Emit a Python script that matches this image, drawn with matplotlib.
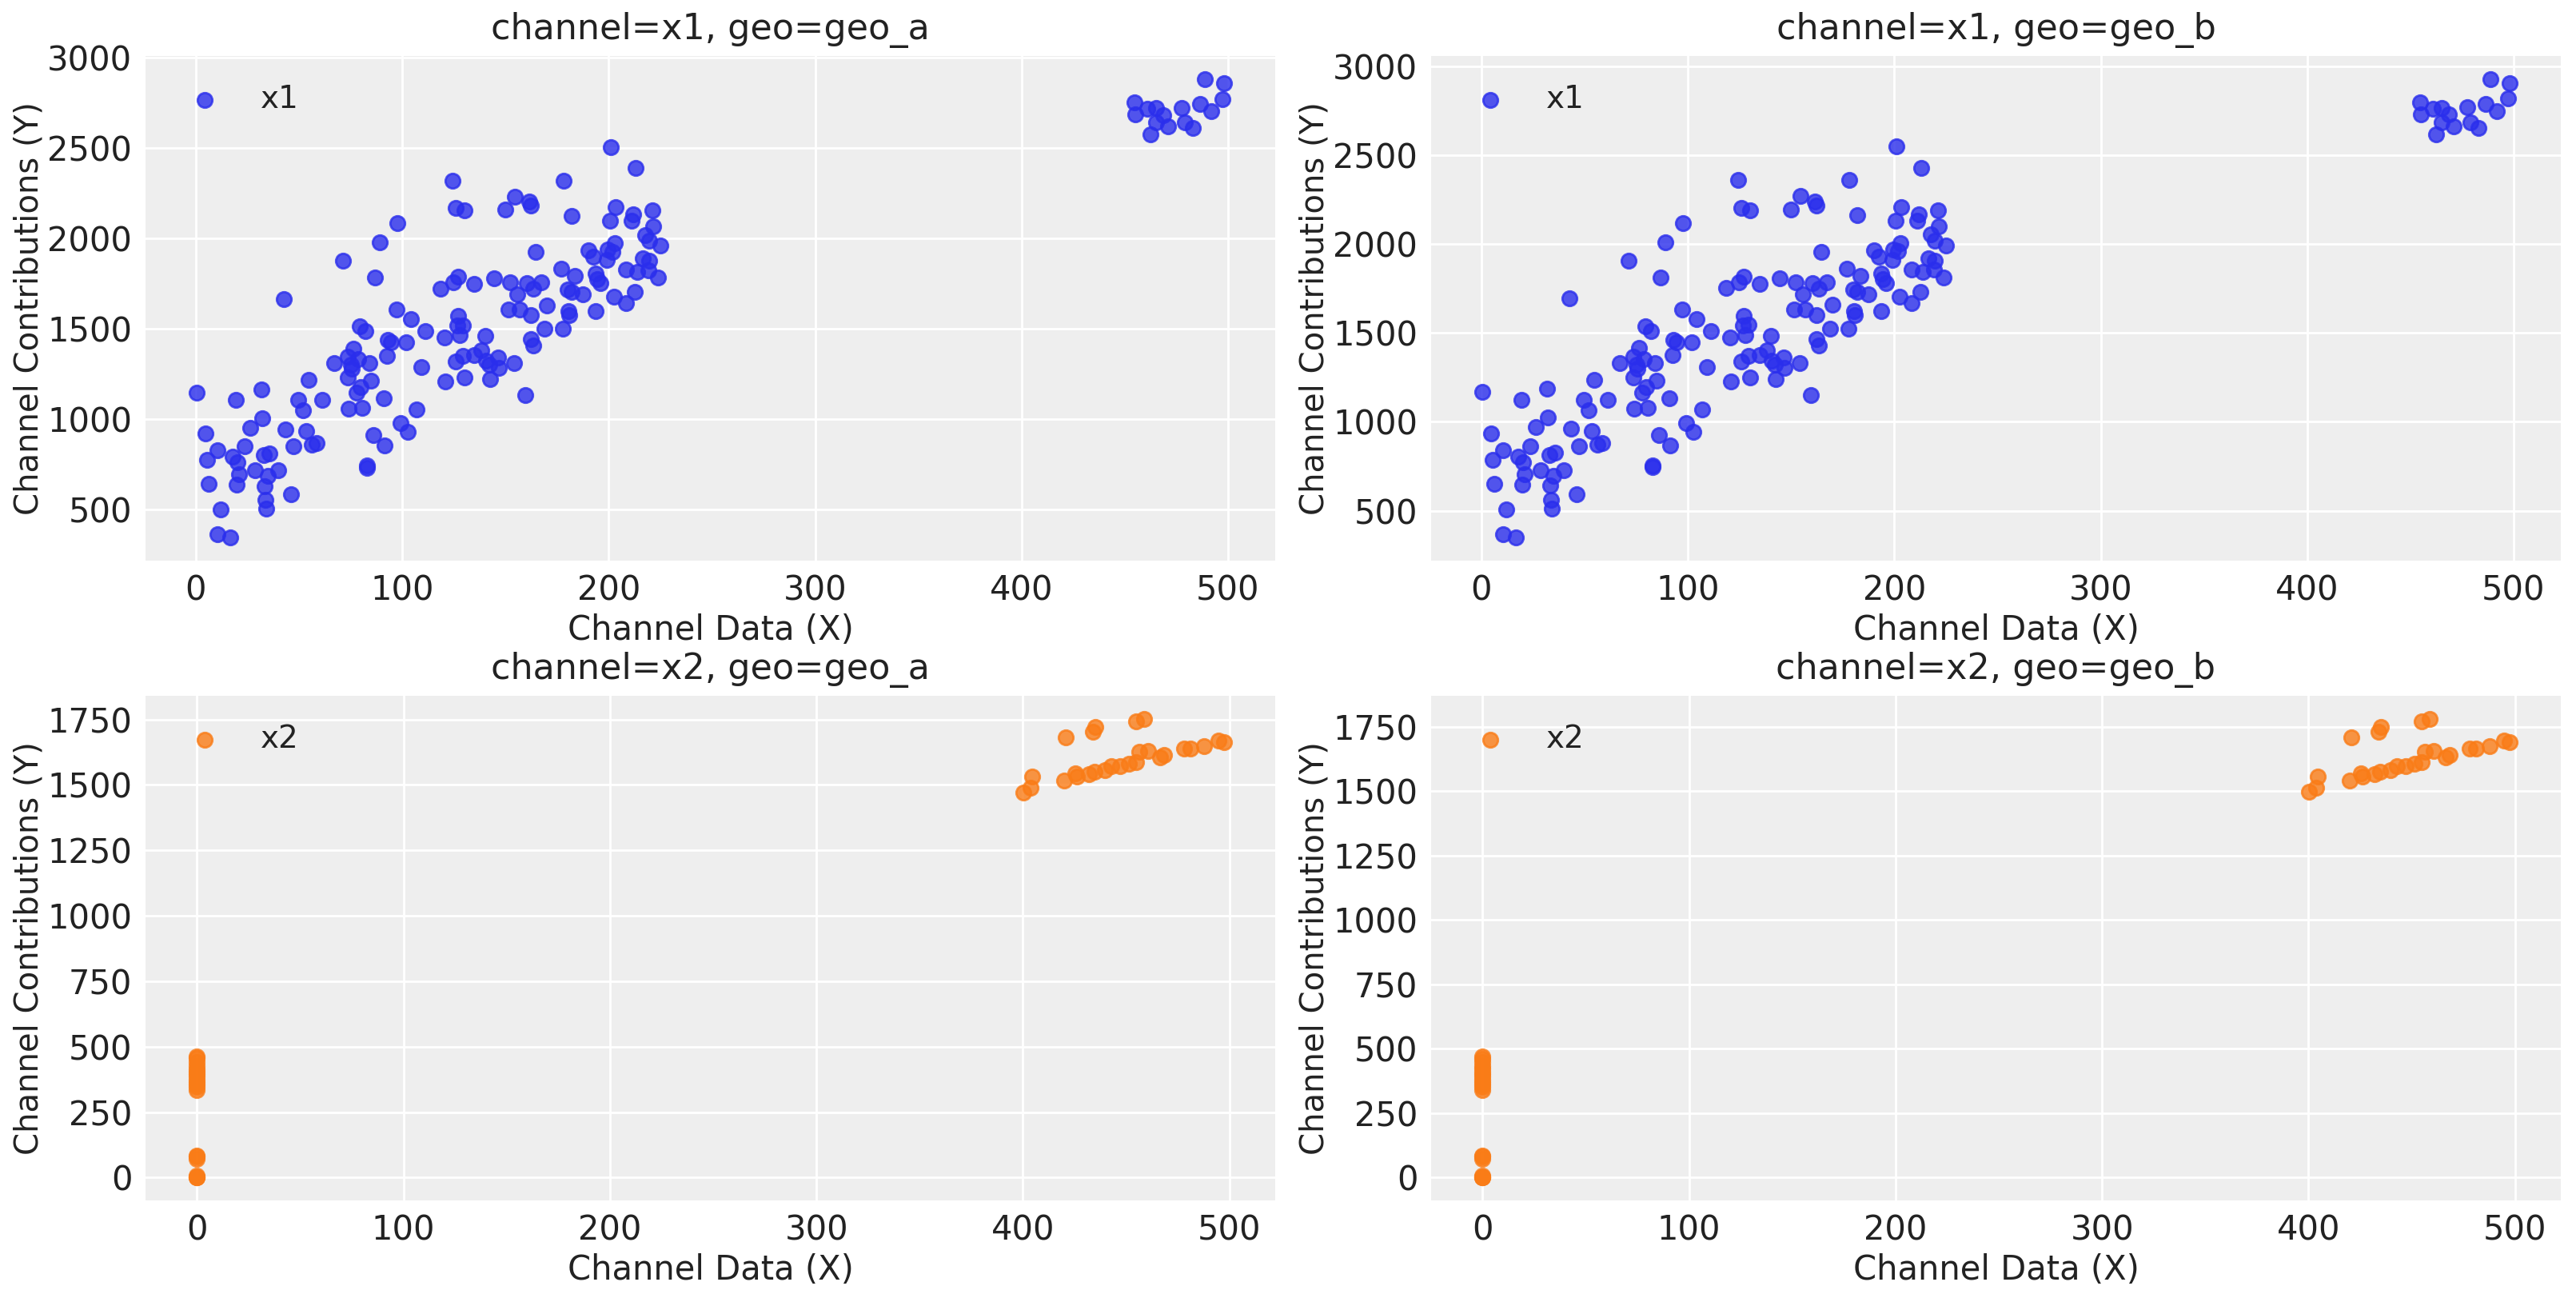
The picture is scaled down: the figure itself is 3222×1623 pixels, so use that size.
import matplotlib
matplotlib.use("Agg")
import matplotlib.pyplot as plt

# ---------------- data ----------------
x1_x = [97.5, 89.2, 71.4, 86.8, 42.7, 97.3, 104.3, 111.1, 79.6, 82.1, 92.9, 94.6, 101.8, 92.6, 109.2,
        76.4, 73.5, 78.6, 67.0, 75.0, 75.5, 84.1, 73.7, 84.9, 79.7, 77.8, 54.6, 49.5, 52.0, 61.3,
        73.9, 80.6, 91.1, 107.0, 99.1, 102.7, 85.9, 91.5, 83.0, 83.0, 0.5, 19.5, 31.9, 32.3, 26.5,
        4.8, 10.6, 23.7, 5.5, 17.8, 20.3, 21.0, 19.9, 6.3, 28.8, 32.9, 35.7, 34.8, 40.0, 33.4,
        43.5, 47.2, 53.4, 56.1, 58.7, 46.1, 33.8, 34.2, 12.1, 10.6, 16.8,
        201.0, 213.0, 124.4, 178.1, 125.9, 130.2, 154.6, 149.9, 161.7, 162.3, 182.1, 203.4, 200.6,
        211.7, 211.1, 221.2, 221.7, 217.5, 219.7, 225.0, 164.5, 190.3, 192.4, 199.5, 202.8, 201.8,
        199.1, 177.0, 183.6, 193.7, 194.6, 195.9, 208.3, 213.9, 216.5, 219.7, 219.1, 223.9, 180.0,
        181.9, 187.5, 202.6, 208.3, 212.6, 193.5, 180.4, 181.0, 169.9, 168.9, 177.8, 162.3, 163.4,
        159.5, 151.5, 156.9, 162.3, 155.6, 152.3, 160.3, 163.4, 167.2, 144.5, 134.8, 127.0, 124.8,
        118.6, 127.0, 126.8, 129.4, 127.7, 120.5, 140.3, 138.1, 134.8, 129.2, 125.8, 140.8, 142.2,
        146.6, 147.0, 154.2, 130.2, 120.9, 142.6,
        488.7, 498.0, 497.2, 486.5, 491.8, 477.5, 479.0, 482.9, 454.6, 455.0, 461.0, 465.0, 468.8,
        465.2, 470.9, 462.4]

x1_geo_a = [2085, 1980, 1878, 1785, 1666, 1608, 1552, 1486, 1514, 1488, 1438, 1425, 1427, 1352, 1287,
            1392, 1346, 1331, 1311, 1303, 1280, 1308, 1232, 1212, 1177, 1146, 1215, 1105, 1047, 1105,
            1059, 1062, 1113, 1052, 976, 930, 910, 854, 742, 732, 1148, 1108, 1166, 1006, 953,
            922, 826, 850, 773, 790, 759, 695, 637, 643, 715, 799, 811, 686, 715, 630,
            944, 848, 933, 858, 869, 585, 552, 503, 499, 361, 343,
            2508, 2392, 2322, 2322, 2168, 2154, 2233, 2159, 2203, 2184, 2127, 2172, 2099,
            2134, 2099, 2154, 2066, 2021, 1989, 1963, 1924, 1936, 1898, 1939, 1974, 1928,
            1883, 1834, 1791, 1806, 1773, 1753, 1829, 1814, 1890, 1875, 1826, 1784, 1718,
            1704, 1689, 1677, 1643, 1706, 1596, 1596, 1575, 1631, 1499, 1501, 1441, 1407,
            1131, 1605, 1605, 1578, 1692, 1758, 1752, 1723, 1756, 1779, 1750, 1787, 1756,
            1724, 1570, 1517, 1520, 1463, 1453, 1462, 1383, 1355, 1348, 1319, 1322, 1303,
            1341, 1283, 1311, 1232, 1207, 1220,
            2884, 2862, 2774, 2744, 2706, 2725, 2644, 2613, 2752, 2688, 2717, 2722, 2685,
            2644, 2622, 2578]

x1_geo_b = [2117, 2011, 1907, 1813, 1692, 1633, 1576, 1509, 1537, 1511, 1460, 1447, 1449, 1373, 1307,
            1414, 1367, 1352, 1331, 1323, 1300, 1328, 1251, 1231, 1195, 1164, 1234, 1122, 1063, 1122,
            1075, 1078, 1130, 1068, 991, 944, 924, 867, 754, 743, 1166, 1125, 1184, 1022, 968,
            936, 839, 863, 785, 802, 771, 706, 647, 653, 726, 811, 824, 697, 726, 640,
            959, 861, 947, 871, 882, 594, 561, 511, 507, 367, 348,
            2547, 2429, 2358, 2358, 2202, 2187, 2268, 2192, 2237, 2218, 2160, 2206, 2132,
            2167, 2132, 2187, 2098, 2052, 2020, 1993, 1954, 1966, 1927, 1969, 2005, 1958,
            1912, 1862, 1819, 1834, 1800, 1780, 1857, 1842, 1919, 1904, 1854, 1812, 1745,
            1730, 1715, 1703, 1668, 1732, 1621, 1621, 1599, 1656, 1522, 1524, 1463, 1429,
            1149, 1630, 1630, 1602, 1718, 1785, 1779, 1750, 1783, 1807, 1777, 1815, 1783,
            1751, 1594, 1541, 1544, 1486, 1476, 1485, 1404, 1376, 1369, 1339, 1342, 1323,
            1362, 1303, 1331, 1251, 1226, 1239,
            2928, 2906, 2817, 2787, 2748, 2767, 2685, 2654, 2795, 2730, 2759, 2764, 2727,
            2685, 2663, 2618]

x2_x = [0, 0, 0, 0, 0, 0, 0, 0, 0, 0, 0, 0, 0, 0, 0, 0, 0, 0, 0, 0,
        400.1, 403.6, 404.5, 420.7, 419.8, 425.3, 426.2, 431.8, 434.6, 434.0, 435.0, 439.8,
        442.8, 447.2, 451.4, 454.9, 454.9, 458.5, 456.2, 460.5, 466.5, 468.5, 477.9, 481.1,
        487.6, 494.7, 497.3]

x2_geo_a = [0, 0, 2, 6, 72, 80, 85, 335, 345, 355, 365, 375, 385, 395, 405, 415, 425, 440, 455, 462,
            1472, 1490, 1531, 1682, 1517, 1543, 1531, 1540, 1551, 1703, 1721, 1556,
            1573, 1573, 1582, 1587, 1743, 1753, 1628, 1630, 1605, 1615, 1640, 1638,
            1648, 1668, 1663]

x2_geo_b = [0, 0, 2, 6, 73, 81, 86, 340, 351, 361, 371, 381, 391, 401, 411, 422, 432, 447, 462, 469,
            1496, 1514, 1555, 1709, 1541, 1568, 1555, 1565, 1576, 1730, 1749, 1581,
            1598, 1598, 1607, 1612, 1771, 1781, 1654, 1656, 1631, 1641, 1666, 1664,
            1674, 1695, 1690]

channels = ["x1", "x2"]
geos = ["geo_a", "geo_b"]
x_ticks = [0, 100, 200, 300, 400, 500]
y_ticks = {"x1": [500, 1000, 1500, 2000, 2500, 3000],
           "x2": [0, 250, 500, 750, 1000, 1250, 1500, 1750]}

# ---------------- style ----------------
plt.rcParams.update({
    "font.family": ["DejaVu Sans"],
    "axes.facecolor": "#eeeeee",
    "figure.facecolor": "white",
    "axes.grid": True,
    "grid.color": "white",
    "grid.linewidth": 1.0,
    "axes.spines.left": False,
    "axes.spines.right": False,
    "axes.spines.top": False,
    "axes.spines.bottom": False,
    "xtick.major.size": 0,
    "ytick.major.size": 0,
    "xtick.color": "#222222",
    "ytick.color": "#222222",
    "text.color": "#222222",
    "axes.labelcolor": "#222222",
})
colors = {"x1": "#2a2eec", "x2": "#fa7c17"}

fig = plt.figure(figsize=(16.115, 8.115), dpi=200)
W, H = 3223.0, 1623.0
lefts = [182 / W, 1790 / W]
width = 1413 / W
bottoms = [1 - 701 / H, 1 - 1501 / H]
height = 631 / H

data = {
    ("x1", "geo_a"): (x1_x, x1_geo_a),
    ("x1", "geo_b"): (x1_x, x1_geo_b),
    ("x2", "geo_a"): (x2_x, x2_geo_a),
    ("x2", "geo_b"): (x2_x, x2_geo_b),
}

for r, ch in enumerate(channels):
    for c, geo in enumerate(geos):
        ax = fig.add_axes([lefts[c], bottoms[r], width, height])
        ax.set_axisbelow(True)
        xs, ys = data[(ch, geo)]
        ax.scatter(xs, ys, s=44, color=colors[ch], alpha=0.8, label=ch)
        ax.set_title(f"channel={ch}, geo={geo}", fontsize=16, pad=7.5)
        ax.set_xlabel("Channel Data (X)", fontsize=15, labelpad=2.5)
        ax.set_ylabel("Channel Contributions (Y)", fontsize=14.5, labelpad=1)
        ax.tick_params(labelsize=15, pad=6)
        ax.set_xticks(x_ticks)
        ax.set_yticks(y_ticks[ch])
        ax.legend(loc="upper left", frameon=False, fontsize=14)

fig.savefig("out.png", dpi=200)
